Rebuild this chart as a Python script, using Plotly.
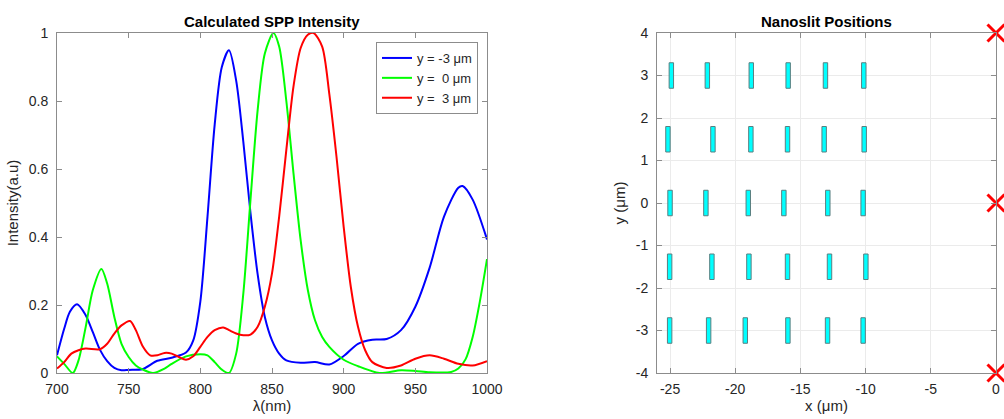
import plotly.graph_objects as go

# ---- calculated SPP intensity ----
wl_blue = [700, 705, 709, 714, 720, 725, 730, 735, 740, 745, 750, 760, 770, 780, 790, 795,
           800, 805, 810, 815, 820, 825, 830, 835, 840, 845, 850, 855, 860, 870, 880, 890,
           900, 910, 920, 930, 940, 950, 960, 970, 980, 983, 990, 1000]
int_blue = [0.052, 0.13, 0.18, 0.202, 0.17, 0.12, 0.068, 0.035, 0.015, 0.008, 0.009, 0.012,
            0.036, 0.045, 0.06, 0.095, 0.21, 0.46, 0.73, 0.90, 0.949, 0.86, 0.68, 0.47, 0.29,
            0.165, 0.096, 0.057, 0.037, 0.03, 0.032, 0.025, 0.05, 0.086, 0.098, 0.10, 0.126,
            0.195, 0.31, 0.46, 0.545, 0.55, 0.51, 0.393]

wl_green = [700, 705, 711, 715, 720, 725, 731, 735, 740, 745, 750, 755, 760, 767, 775, 780,
            790, 800, 805, 810, 815, 820, 825, 830, 835, 840, 845, 851, 855, 860, 865, 870,
            875, 880, 885, 890, 900, 910, 925, 940, 950, 960, 975, 980, 985, 990, 995, 1000]
int_green = [0.049, 0.027, 0.0, 0.037, 0.135, 0.244, 0.306, 0.263, 0.165, 0.086, 0.047,
             0.022, 0.01, 0.0, 0.013, 0.027, 0.049, 0.055, 0.052, 0.032, 0.01, 0.0, 0.057,
             0.234, 0.51, 0.774, 0.94, 1.0, 0.96, 0.80, 0.587, 0.39, 0.244, 0.155, 0.106,
             0.077, 0.039, 0.02, 0.0, 0.008, 0.006, 0.002, 0.003, 0.013, 0.04, 0.106, 0.21, 0.335]

wl_red = [700, 705, 710, 715, 720, 730, 735, 740, 745, 751, 755, 760, 765, 770, 775, 780,
          785, 790, 795, 800, 805, 810, 816, 820, 825, 830, 835, 840, 845, 850, 855, 860,
          865, 870, 875, 879, 885, 890, 895, 900, 905, 910, 915, 920, 930, 940, 950, 960,
          970, 980, 990, 1000]
int_red = [0.013, 0.032, 0.057, 0.067, 0.072, 0.07, 0.086, 0.116, 0.14, 0.153, 0.126, 0.077,
           0.052, 0.052, 0.059, 0.057, 0.047, 0.039, 0.049, 0.077, 0.106, 0.126, 0.134, 0.126,
           0.116, 0.111, 0.113, 0.136, 0.195, 0.293, 0.46, 0.656, 0.843, 0.956, 0.995, 1.0,
           0.96, 0.82, 0.636, 0.43, 0.253, 0.136, 0.067, 0.032, 0.015, 0.022, 0.042, 0.052,
           0.042, 0.027, 0.022, 0.035]

legend_names = ["y = -3 μm", "y =  0 μm", "y =  3 μm"]

# tick labels, MATLAB style (plain hyphen minus)
int_ticks = [0, 0.2, 0.4, 0.6, 0.8, 1]
int_tick_text = ["0", "0.2", "0.4", "0.6", "0.8", "1"]
pos_x_ticks = [-25, -20, -15, -10, -5, 0]
pos_x_text = ["-25", "-20", "-15", "-10", "-5", "0"]
pos_y_ticks = [-4, -3, -2, -1, 0, 1, 2, 3, 4]
pos_y_text = ["-4", "-3", "-2", "-1", "0", "1", "2", "3", "4"]

# ---- nanoslit positions (um) ----
row_y = [3, 1.5, 0, -1.5, -3]
row_x = [
    [-24.90, -22.14, -18.77, -15.94, -13.08, -10.14],
    [-25.16, -21.71, -18.80, -15.99, -13.18, -10.11],
    [-25.00, -22.25, -19.00, -16.27, -12.90, -10.19],
    [-25.03, -21.79, -18.95, -15.99, -12.77, -9.98],
    [-25.03, -22.04, -19.23, -15.96, -12.92, -10.19],
]
slit_w = 0.34
slit_h = 0.6
focus_x = [0, 0, 0]
focus_y = [4, 0, -4]

W, H = 1004, 419
TXT = "#262626"
AX = "#8c8c8c"
FONT = "Liberation Sans, Arial, sans-serif"


def fx(px):
    return px / W


def fy(py):
    return 1 - py / H


fig = go.Figure()

for wl, val, col, name in zip([wl_blue, wl_green, wl_red], [int_blue, int_green, int_red],
                              ["#0000ff", "#00ff00", "#ff0000"], legend_names):
    fig.add_trace(go.Scatter(x=wl, y=val, mode="lines", name=name,
                             line=dict(color=col, width=2, shape="spline", smoothing=0.8),
                             xaxis="x", yaxis="y"))

# slits as closed rectangles
for y0, xs in zip(row_y, row_x):
    px, py = [], []
    for xc in xs:
        px += [xc - slit_w / 2, xc + slit_w / 2, xc + slit_w / 2, xc - slit_w / 2, xc - slit_w / 2, None]
        py += [y0 - slit_h / 2, y0 - slit_h / 2, y0 + slit_h / 2, y0 + slit_h / 2, y0 - slit_h / 2, None]
    fig.add_trace(go.Scatter(x=px, y=py, mode="lines", fill="toself", fillcolor="#00ffff",
                             line=dict(color="#5a7f80", width=1), showlegend=False,
                             xaxis="x2", yaxis="y2", hoverinfo="skip"))

fig.add_trace(go.Scatter(x=focus_x, y=focus_y, mode="markers", showlegend=False,
                         marker=dict(symbol="x-thin", size=17, line=dict(color="#ff0000", width=3)),
                         cliponaxis=False, xaxis="x2", yaxis="y2"))

common = dict(showline=True, linecolor=AX, linewidth=1, mirror="ticks", ticks="inside",
              ticklen=5, tickcolor=AX, zeroline=False, automargin=False,
              tickfont=dict(size=14, color=TXT, family=FONT))

fig.update_layout(
    width=W, height=H,
    margin=dict(l=0, r=0, t=0, b=0),
    paper_bgcolor="white", plot_bgcolor="white",
    font=dict(family=FONT, color=TXT),
    xaxis=dict(domain=[fx(57), fx(487)], range=[700, 1000], dtick=50, showgrid=False,
               anchor="y", ticklabelstandoff=3,
               title=dict(text="λ(nm)", font=dict(size=15, color=TXT), standoff=2),
               **common),
    yaxis=dict(domain=[fy(373), fy(33)], range=[0, 1], showgrid=False, anchor="x",
               tickvals=int_ticks, ticktext=int_tick_text, ticklabelstandoff=5,
               title=dict(text="Intensity(a.u)", font=dict(size=15, color=TXT), standoff=6),
               **common),
    xaxis2=dict(domain=[fx(657), fx(996)], range=[-26, 0], tickvals=pos_x_ticks,
                ticktext=pos_x_text, showgrid=True, ticklabelstandoff=3,
                gridcolor="#ebebeb", anchor="y2",
                title=dict(text="x (μm)", font=dict(size=15, color=TXT), standoff=2), **common),
    yaxis2=dict(domain=[fy(373), fy(33)], range=[-4, 4], tickvals=pos_y_ticks, ticktext=pos_y_text,
                showgrid=True, gridcolor="#ebebeb", ticklabelstandoff=5,
                anchor="x2", title=dict(text="y (μm)", font=dict(size=15, color=TXT), standoff=6),
                **common),
    legend=dict(x=fx(478), xanchor="right", y=fy(42), yanchor="top",
                bgcolor="white", bordercolor=AX, borderwidth=1,
                font=dict(size=13, color=TXT, family=FONT), tracegroupgap=0,
                itemwidth=30),
    annotations=[
        dict(text="<b>Calculated SPP Intensity</b>", x=fx((57 + 487) / 2), y=fy(21),
             xref="paper", yref="paper", xanchor="center", yanchor="middle",
             showarrow=False, font=dict(size=15, color="black")),
        dict(text="<b>Nanoslit Positions</b>", x=fx((657 + 996) / 2), y=fy(21),
             xref="paper", yref="paper", xanchor="center", yanchor="middle",
             showarrow=False, font=dict(size=15, color="black")),
    ],
)

# drop the default page margin so the figure sits at the window's corner
fig.write_html("out.html", config={"displayModeBar": False},
               post_script="document.body.style.margin='0';document.body.style.overflow='hidden';")
